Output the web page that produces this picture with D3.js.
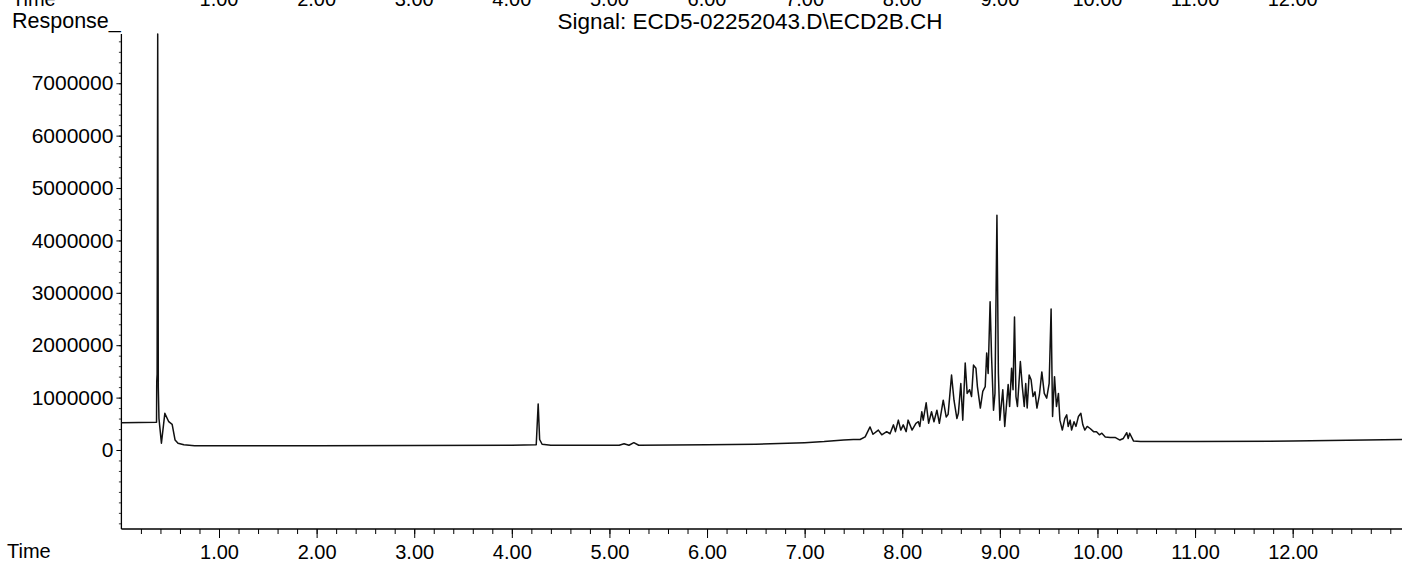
<!DOCTYPE html>
<html><head><meta charset="utf-8">
<script src="https://cdn.jsdelivr.net/npm/d3@7/dist/d3.min.js"></script>
<style>
html,body{margin:0;padding:0;background:#fff;}
svg{display:block;}
text{font-family:"Liberation Sans",Arial,sans-serif;fill:#000;}
</style></head><body>
<svg id="c" width="1402" height="563"></svg>
<script>
// ---- data (time in minutes, response in millions) ----
const UNIT = 1e6;
const times = [
 0.00,0.36,0.362,0.366,0.372,0.378,0.385,0.41,0.445,0.485,0.52,0.55,0.58,0.64,0.75,
 2.00,3.00,4.00,4.25,4.27,4.285,4.31,4.40,5.10,5.15,5.20,5.25,5.30,6.00,6.50,7.00,7.20,7.40,7.50,7.568,
 7.62,7.67,7.70,7.755,7.79,7.84,7.875,7.91,7.93,7.96,7.985,8.01,8.04,8.06,8.10,8.14,8.165,8.18,8.20,8.215,
 8.245,8.27,8.30,8.325,8.355,8.38,8.42,8.45,8.47,8.505,8.53,8.56,8.575,8.60,8.62,8.645,8.665,8.69,8.71,
 8.73,8.755,8.77,8.80,8.825,8.85,8.865,8.88,8.90,8.915,8.935,8.95,8.97,8.985,9.00,9.03,9.05,9.085,9.10,
 9.12,9.135,9.15,9.165,9.18,9.21,9.23,9.25,9.265,9.28,9.30,9.32,9.34,9.36,9.38,9.405,9.43,9.455,9.48,
 9.505,9.525,9.54,9.56,9.58,9.60,9.615,9.64,9.665,9.685,9.70,9.72,9.735,9.76,9.78,9.805,9.83,9.85,9.87,
 9.895,9.925,9.96,9.99,10.02,10.045,10.08,10.13,10.18,10.23,10.265,10.30,10.315,10.33,10.37,10.44,
 11.00,12.00,13.12
];
const responses = [
 0.52,0.53,1.30,1.45,7.94,1.20,0.60,0.13,0.70,0.54,0.49,0.19,0.13,0.10,0.08,
 0.08,0.085,0.09,0.10,0.88,0.20,0.11,0.09,0.09,0.12,0.09,0.14,0.09,0.10,0.11,0.14,0.16,0.19,0.20,0.20,
 0.25,0.44,0.30,0.38,0.29,0.35,0.31,0.48,0.35,0.57,0.38,0.48,0.35,0.57,0.38,0.51,0.54,0.45,0.73,0.57,
 0.90,0.51,0.73,0.54,0.76,0.51,0.95,0.63,0.68,1.43,0.95,0.60,0.70,1.27,0.57,1.66,1.08,1.15,1.02,
 1.62,1.56,1.21,0.80,1.12,1.21,1.85,1.46,2.83,1.78,0.76,1.08,4.48,1.46,0.57,1.15,0.45,1.25,0.83,
 1.56,1.15,2.54,1.02,0.83,1.69,1.21,0.83,1.27,0.80,1.43,1.34,1.02,1.11,0.80,1.05,1.49,1.08,0.99,
 1.27,2.69,0.64,1.40,0.83,1.08,0.57,0.38,0.60,0.67,0.45,0.57,0.38,0.54,0.45,0.64,0.70,0.48,0.38,
 0.45,0.41,0.35,0.35,0.29,0.32,0.25,0.24,0.24,0.19,0.22,0.33,0.22,0.32,0.17,0.16,
 0.16,0.17,0.20
];
const yTicks = [0,1000000,2000000,3000000,4000000,5000000,6000000,7000000];
const xTicks = [1,2,3,4,5,6,7,8,9,10,11,12];
const title = "Signal: ECD5-02252043.D\\ECD2B.CH";

// ---- layout ----
const svg = d3.select("#c");
const x = d3.scaleLinear().domain([0, 13.12]).range([121.4, 1402]);
const y = d3.scaleLinear().domain([-1.508e6, 7.94e6]).range([529, 34]);
const FS = 20;
const FONT = '"Liberation Sans",Arial,sans-serif';

// axis labels of the preceding panel, cut off at the very top edge
const topG = svg.append("g");
topG.append("text").attr("x", 12).attr("y", 6).style("font-size", FS+"px").text("Time");
topG.selectAll("text.tl").data(xTicks).enter().append("text").attr("class","tl")
  .attr("x", d => x(d)).attr("y", 6).attr("text-anchor","middle").style("font-size", FS+"px")
  .text(d => d.toFixed(2));

svg.append("text").attr("x", 12).attr("y", 28).style("font-size", "21.5px").text("Response_");
svg.append("text").attr("x", 750).attr("y", 29).attr("text-anchor","middle").style("font-size", "22.5px").text(title);

// y axis
const yMinor = d3.range(-1400000, 7900001, 200000);
const gyMinor = svg.append("g").attr("transform","translate(121.4,0)")
  .call(d3.axisLeft(y).tickValues(yMinor).tickSize(2.5).tickFormat(""));
gyMinor.select(".domain").remove();
gyMinor.selectAll("line").attr("stroke-width",0.8);
const gy = svg.append("g").attr("transform","translate(121.4,0)")
  .call(d3.axisLeft(y).tickValues(yTicks).tickSize(5).tickPadding(3).tickFormat(d3.format("d")));
gy.select(".domain").attr("d", `M0,${y(7.94e6)}V${y(-1.508e6)}`).attr("stroke","#000").attr("stroke-width",1.3);
gy.selectAll("text").style("font-size", "21px").style("font-family", FONT);

// x axis
const xMinor = d3.range(0.2, 13.05, 0.2);
const gxMinor = svg.append("g").attr("transform","translate(0,529)")
  .call(d3.axisBottom(x).tickValues(xMinor).tickSize(5).tickFormat(""));
gxMinor.select(".domain").remove();
const gx = svg.append("g").attr("transform","translate(0,529)")
  .call(d3.axisBottom(x).tickValues(xTicks).tickSize(9).tickPadding(7).tickFormat(d3.format(".2f")));
gx.select(".domain").attr("d", `M121.4,0H1402`).attr("stroke","#000").attr("stroke-width",1.3);
gx.selectAll("text").style("font-size", FS+"px").style("font-family", FONT);
svg.append("text").attr("x", 7).attr("y", 558).style("font-size", FS+"px").text("Time");

// trace
const pts = times.map((t,i) => [t, responses[i]*UNIT]);
const line = d3.line().x(d => x(d[0])).y(d => y(d[1]));
svg.append("path").datum(pts).attr("d", line).attr("fill","none")
  .attr("stroke","#111").attr("stroke-width",1.5).attr("stroke-linejoin","round");
</script>
</body></html>
